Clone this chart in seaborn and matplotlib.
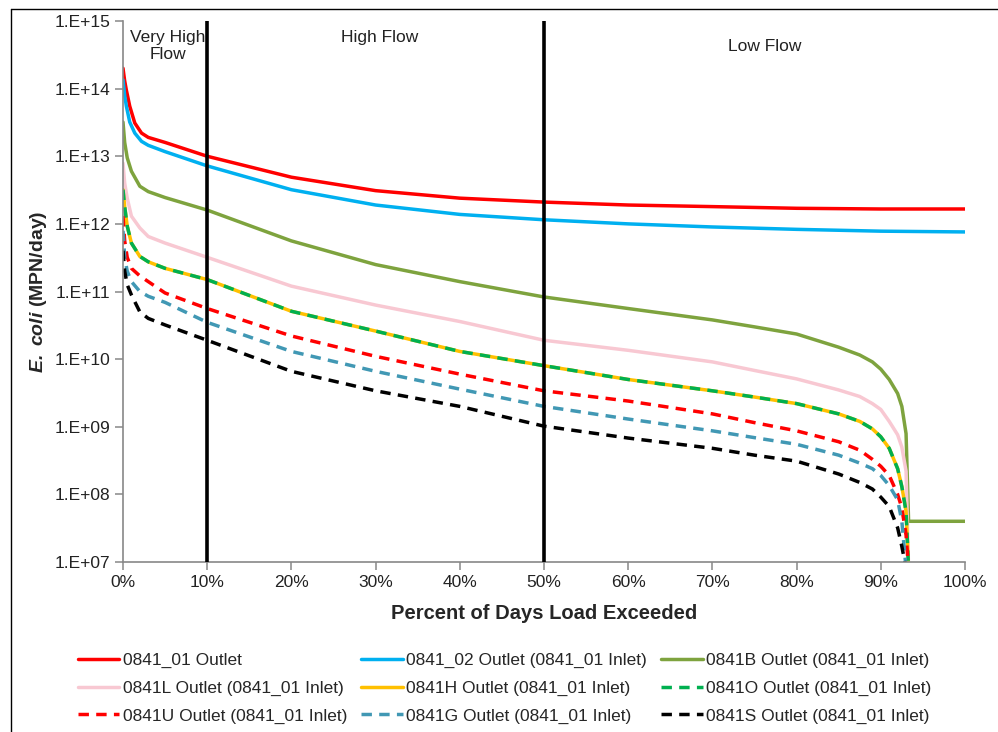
import matplotlib
matplotlib.use("Agg")
import matplotlib.pyplot as plt
import matplotlib.ticker as mticker
from matplotlib.lines import Line2D
import seaborn as sns
import numpy as np

sns.set_style("white")
plt.rcParams['font.family'] = ['Liberation Sans', 'DejaVu Sans']
plt.rcParams['mathtext.fontset'] = 'custom'
plt.rcParams['mathtext.bfit'] = 'Liberation Sans:italic:bold'
plt.rcParams['mathtext.it'] = 'Liberation Sans:italic'
plt.rcParams['mathtext.rm'] = 'Liberation Sans'

# ---- data (percent of days load exceeded vs E. coli load, MPN/day) ----
x_upper = [0, 0.2, 0.4, 0.8, 1.4, 2.2, 3, 5, 10, 20, 30, 40, 50, 60, 70, 80, 90, 100]
y_0841_01 = [2.0e14, 1.3e14, 9.5e13, 5.5e13, 3.1e13, 2.2e13, 1.9e13, 1.6e13, 1.0e13, 4.9e12,
             3.1e12, 2.4e12, 2.1e12, 1.9e12, 1.8e12, 1.7e12, 1.66e12, 1.66e12]
y_0841_02 = [1.35e14, 7.9e13, 5.5e13, 3.2e13, 2.2e13, 1.66e13, 1.45e13, 1.17e13, 7.2e12, 3.2e12,
             1.9e12, 1.38e12, 1.15e12, 1.0e12, 9.0e11, 8.3e11, 7.8e11, 7.6e11]

x_lower = [0, 0.2, 0.5, 1, 2, 3, 5, 10, 20, 30, 40, 50, 60, 70, 75, 80, 85, 87.5, 89, 90,
           91, 92, 92.5, 93, 93.3]
x_b = x_lower + [100]
y_0841B = [3.2e13, 1.6e13, 9.5e12, 6.0e12, 3.6e12, 3.0e12, 2.45e12, 1.6e12, 5.6e11, 2.5e11,
           1.4e11, 8.3e10, 5.6e10, 3.8e10, 3.0e10, 2.35e10, 1.5e10, 1.15e10, 9.1e9, 7.1e9,
           5.0e9, 3.1e9, 2.0e9, 7.9e8, 4.0e7, 4.0e7]
y_0841L = [7.9e12, 4.0e12, 2.4e12, 1.3e12, 8.7e11, 6.5e11, 5.2e11, 3.2e11, 1.2e11, 6.3e10,
           3.6e10, 1.9e10, 1.35e10, 9.1e9, 6.8e9, 5.1e9, 3.5e9, 2.8e9, 2.2e9, 1.8e9,
           1.2e9, 7.6e8, 5.0e8, 2.2e8, 8e6]
y_0841H = [3.2e12, 1.8e12, 9.3e11, 5.2e11, 3.3e11, 2.75e11, 2.2e11, 1.5e11, 5.1e10, 2.6e10,
           1.3e10, 8.0e9, 5.0e9, 3.4e9, 2.75e9, 2.2e9, 1.55e9, 1.2e9, 9.3e8, 7.1e8,
           4.8e8, 2.4e8, 1.3e8, 5.6e7, 8e6]
y_0841O = [3.2e12, 1.8e12, 9.3e11, 5.2e11, 3.3e11, 2.75e11, 2.2e11, 1.5e11, 5.1e10, 2.6e10,
           1.3e10, 8.0e9, 5.0e9, 3.4e9, 2.75e9, 2.2e9, 1.55e9, 1.2e9, 9.3e8, 7.1e8,
           4.8e8, 2.4e8, 1.3e8, 5.6e7, 8e6]
y_0841U = [1.3e12, 5.6e11, 3.2e11, 2.2e11, 1.7e11, 1.4e11, 9.5e10, 5.6e10, 2.2e10, 1.1e10,
           6.0e9, 3.4e9, 2.4e9, 1.55e9, 1.15e9, 8.7e8, 6.0e8, 4.5e8, 3.3e8, 2.6e8,
           1.9e8, 1.0e8, 6.3e7, 2.5e7, 8e6]
y_0841G = [7.9e11, 3.2e11, 2.0e11, 1.4e11, 1.0e11, 8.5e10, 6.9e10, 3.5e10, 1.3e10, 6.6e9,
           3.6e9, 2.0e9, 1.3e9, 8.7e8, 6.9e8, 5.5e8, 3.8e8, 2.9e8, 2.4e8, 1.9e8,
           1.35e8, 8.3e7, 4.0e7, 8e6, 8e6]
y_0841S = [4.0e11, 2.0e11, 1.26e11, 8.9e10, 5.0e10, 4.0e10, 3.2e10, 1.9e10, 6.6e9, 3.4e9,
           2.0e9, 1.02e9, 6.8e8, 4.8e8, 3.8e8, 3.1e8, 2.0e8, 1.5e8, 1.2e8, 9.1e7,
           6.6e7, 3.2e7, 1.7e7, 8e6, 8e6]

labels = ["0841_01 Outlet", "0841_02 Outlet (0841_01 Inlet)", "0841B Outlet (0841_01 Inlet)",
          "0841L Outlet (0841_01 Inlet)", "0841H Outlet (0841_01 Inlet)", "0841O Outlet (0841_01 Inlet)",
          "0841U Outlet (0841_01 Inlet)", "0841G Outlet (0841_01 Inlet)", "0841S Outlet (0841_01 Inlet)"]
flow_zones = ["Very High\nFlow", "High Flow", "Low Flow"]
zone_bounds = [10, 50]
x_ticks = [0, 10, 20, 30, 40, 50, 60, 70, 80, 90, 100]

# ---- figure ----
fig = plt.figure(figsize=(9.98, 7.32), dpi=100)
ax = fig.add_axes([123/998, 1-562/732, (965-123)/998, (562-21)/732])

dash = (0, (3.0, 2.1))
series = [
    (x_upper, y_0841_01, "#FF0000", "-"),
    (x_upper, y_0841_02, "#00B0F0", "-"),
    (x_b, y_0841B, "#7EA33E", "-"),
    (x_lower, y_0841L, "#F8C8D2", "-"),
    (x_lower, y_0841H, "#FFC000", "-"),
    (x_lower, y_0841O, "#00B050", dash),
    (x_lower, y_0841U, "#FF0000", dash),
    (x_lower, y_0841G, "#4198B4", dash),
    (x_lower, y_0841S, "#000000", dash),
]
handles = []
for (xs, ys, c, ls), lab in zip(series, labels):
    sns.lineplot(x=xs, y=ys, ax=ax, color=c, linewidth=2.5, linestyle=ls, label=lab,
                 sort=False, estimator=None)
    handles.append(ax.lines[-1])

for b in zone_bounds:
    ax.axvline(b, color="black", linewidth=2.6, zorder=5)

ax.set_yscale("log")
ax.set_ylim(1e7, 1e15)
ax.set_xlim(0, 100)
ax.yaxis.set_major_locator(mticker.LogLocator(base=10, numticks=20))
ax.yaxis.set_minor_locator(mticker.NullLocator())
ax.yaxis.set_major_formatter(mticker.FuncFormatter(lambda v, p: "1.E+%02d" % round(np.log10(v))))
ax.set_xticks(x_ticks)
ax.xaxis.set_major_formatter(mticker.FuncFormatter(lambda v, p: "%d%%" % v))

for s in ["top", "right"]:
    ax.spines[s].set_visible(False)
for s in ["left", "bottom"]:
    ax.spines[s].set_color("#888888")
    ax.spines[s].set_linewidth(1.2)
ax.tick_params(axis="both", which="major", direction="out", length=6, width=1.1,
               color="#888888", labelsize=12.5, labelcolor="#222222", bottom=True, left=True)
ax.tick_params(axis="y", pad=3)

ax.set_xlabel("Percent of Days Load Exceeded", fontsize=14.5, fontweight="bold", labelpad=10)
ax.set_ylabel(r"$\mathbfit{E.\ coli}$ (MPN/day)", fontsize=14, fontweight="bold", labelpad=4)

ax.text(5.3, 0.983, flow_zones[0], transform=ax.get_xaxis_transform(), ha="center", va="top",
        fontsize=12.5, color="#222222", linespacing=1.15)
ax.text(30.5, 0.983, flow_zones[1], transform=ax.get_xaxis_transform(), ha="center", va="top",
        fontsize=12.5, color="#222222")
ax.text(76.2, 0.966, flow_zones[2], transform=ax.get_xaxis_transform(), ha="center", va="top",
        fontsize=12.5, color="#222222")

order = [0, 3, 6, 1, 4, 7, 2, 5, 8]
ax.legend([handles[i] for i in order], [labels[i] for i in order], ncol=3,
          loc="upper left", bbox_to_anchor=(-0.062, -0.155), frameon=False, fontsize=12.5,
          handlelength=2.4, handletextpad=0.2, columnspacing=0.8, labelspacing=0.72,
          borderaxespad=0)

# outer chart frame (left and top edges visible)
fig.add_artist(Line2D([11/998, 11/998], [0, 1-9/732], transform=fig.transFigure,
                      color="black", linewidth=1.0))
fig.add_artist(Line2D([11/998, 1], [1-9/732, 1-9/732], transform=fig.transFigure,
                      color="black", linewidth=1.0))

fig.savefig("out.png", dpi=100)
